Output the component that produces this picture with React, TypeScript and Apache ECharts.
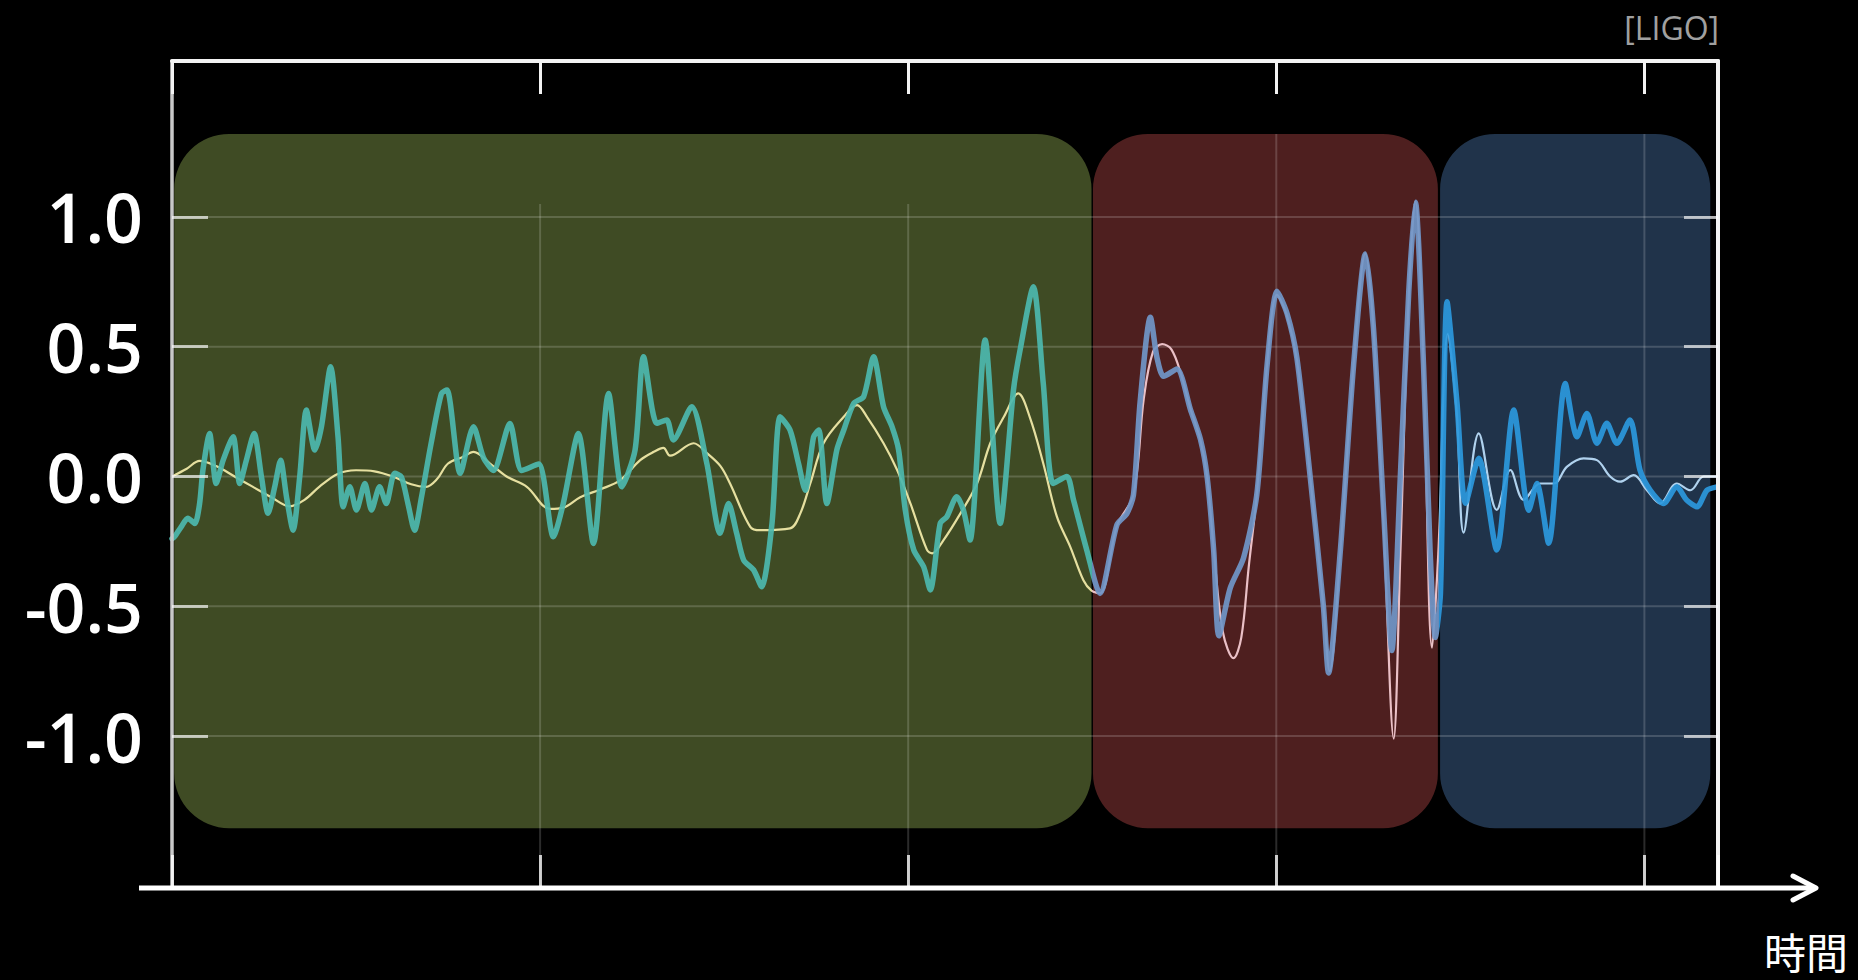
import React, { useEffect, useRef } from "react";
import * as echarts from "echarts";

// ---- axis ticks ----
const yTickValues = [-1.0, -0.5, 0.0, 0.5, 1.0];
const yTickLabels = ["-1.0", "-0.5", "0.0", "0.5", "1.0"];
const xMin = 0;
const xMax = 4.2;
const yMin = -1.578;
const yMax = 1.601;

// ---- shaded phases (x0, x1, bottom, top) ----
const phaseX0 = [0.006, 2.502, 3.445];
const phaseX1 = [2.498, 3.439, 4.179];
const phaseBottom = -1.355;
const phaseTop = 1.32;
const phaseBoundaries = [2.5, 3.442];

// ---- vertical grid lines ----
const vGridX = [1, 2, 3, 4];
const vGridTop = [1.05, 1.05, 1.32, 1.32];

// ---- observed strain (thick line) ----
const observedInspiral: [number, number][] = [
  [0.0, -0.24], [0.007, -0.232], [0.025, -0.194], [0.043, -0.161], [0.062, -0.181], [0.075, -0.104],
  [0.084, 0.025], [0.102, 0.166], [0.12, -0.027], [0.139, 0.063], [0.166, 0.153], [0.184, -0.027],
  [0.202, 0.063], [0.223, 0.166], [0.243, -0.001], [0.261, -0.142], [0.279, -0.04], [0.295, 0.063],
  [0.311, -0.078], [0.329, -0.207], [0.347, -0.001], [0.365, 0.256], [0.388, 0.102], [0.406, 0.192],
  [0.431, 0.423], [0.451, 0.153], [0.465, -0.117], [0.483, -0.04], [0.501, -0.129], [0.524, -0.027],
  [0.542, -0.129], [0.564, -0.04], [0.582, -0.104], [0.605, 0.012], [0.623, -0.001], [0.641, -0.104],
  [0.659, -0.207], [0.678, -0.078], [0.704, 0.128], [0.732, 0.32], [0.747, 0.333], [0.783, 0.012],
  [0.819, 0.192], [0.846, 0.073], [0.873, 0.023], [0.918, 0.204], [0.95, 0.023], [0.996, 0.048],
  [1.036, -0.232], [1.063, -0.104], [1.104, 0.166], [1.145, -0.258], [1.186, 0.32], [1.222, -0.04],
  [1.258, 0.102], [1.281, 0.461], [1.317, 0.205], [1.344, 0.218], [1.362, 0.141], [1.412, 0.269],
  [1.453, 0.05], [1.489, -0.219], [1.512, -0.104], [1.534, -0.219], [1.553, -0.322], [1.58, -0.36],
  [1.602, -0.425], [1.63, -0.181], [1.652, 0.23], [1.679, 0.179], [1.702, 0.05], [1.72, -0.053],
  [1.743, 0.153], [1.757, 0.179], [1.779, -0.104], [1.806, 0.102], [1.825, 0.179], [1.852, 0.282],
  [1.879, 0.308], [1.906, 0.461], [1.933, 0.269], [1.956, 0.192], [1.974, 0.102], [1.992, -0.129],
  [2.015, -0.283], [2.042, -0.348], [2.06, -0.437], [2.087, -0.181], [2.105, -0.155], [2.132, -0.078],
  [2.15, -0.129], [2.168, -0.245], [2.209, 0.526], [2.25, -0.181], [2.286, 0.333], [2.304, 0.487],
  [2.34, 0.731], [2.367, 0.358], [2.394, -0.027], [2.431, 0.0], [2.449, -0.09], [2.485, -0.283],
];
const observedMerger: [number, number][] = [
  [2.521, -0.451], [2.567, -0.186], [2.594, -0.143], [2.612, -0.071], [2.63, 0.286], [2.658, 0.614],
  [2.676, 0.457], [2.694, 0.386], [2.73, 0.414], [2.767, 0.257], [2.794, 0.143], [2.812, 0.0],
  [2.83, -0.286], [2.844, -0.614], [2.875, -0.429], [2.911, -0.314], [2.947, -0.071], [2.975, 0.429],
  [3.002, 0.714], [3.029, 0.629], [3.056, 0.457], [3.092, 0.0], [3.128, -0.5], [3.142, -0.757],
  [3.174, -0.286], [3.21, 0.429], [3.242, 0.857], [3.264, 0.571], [3.292, -0.143], [3.314, -0.671],
  [3.337, 0.0], [3.36, 0.714], [3.378, 1.057], [3.4, 0.429], [3.418, -0.29], [3.432, -0.62],
];
const observedRingdown: [number, number][] = [
  [3.446, -0.45], [3.464, 0.673], [3.491, 0.283], [3.514, -0.103], [3.55, 0.07], [3.599, -0.283],
  [3.645, 0.256], [3.686, -0.13], [3.708, -0.027], [3.74, -0.257], [3.785, 0.358], [3.817, 0.153],
  [3.844, 0.243], [3.871, 0.128], [3.898, 0.205], [3.925, 0.128], [3.961, 0.218], [3.988, 0.025],
  [4.016, -0.053], [4.052, -0.104], [4.088, -0.04], [4.115, -0.091], [4.143, -0.117], [4.17, -0.053],
  [4.197, -0.04],
];

// ---- numerical-relativity model (thin line) ----
const modelInspiral: [number, number][] = [
  [0.0, 0.0], [0.04, 0.03], [0.075, 0.06], [0.12, 0.04], [0.17, 0.0], [0.22, -0.04], [0.27, -0.08],
  [0.32, -0.115], [0.36, -0.09], [0.4, -0.04], [0.45, 0.01], [0.5, 0.024], [0.55, 0.02], [0.6, 0.0],
  [0.65, -0.03], [0.69, -0.04], [0.72, -0.01], [0.75, 0.05], [0.79, 0.075], [0.819, 0.095],
  [0.864, 0.05], [0.909, 0.0], [0.964, -0.04], [1.027, -0.125], [1.063, -0.12], [1.109, -0.08],
  [1.163, -0.05], [1.217, -0.015], [1.272, 0.063], [1.309, 0.095], [1.335, 0.11], [1.353, 0.08],
  [1.417, 0.128], [1.453, 0.09], [1.49, 0.04], [1.516, -0.027], [1.571, -0.194], [1.598, -0.207],
  [1.679, -0.2], [1.707, -0.142], [1.734, -0.027], [1.77, 0.128], [1.825, 0.23], [1.861, 0.275],
  [1.888, 0.23], [1.933, 0.128], [1.97, 0.025], [2.006, -0.104], [2.051, -0.283], [2.065, -0.296],
  [2.096, -0.245], [2.142, -0.142], [2.187, -0.027], [2.223, 0.128], [2.26, 0.23], [2.299, 0.32],
  [2.331, 0.226], [2.367, 0.05], [2.404, -0.155], [2.44, -0.27], [2.476, -0.4], [2.498, -0.44],
];
const modelMerger: [number, number][] = [
  [2.521, -0.45], [2.567, -0.19], [2.612, -0.07], [2.64, 0.3], [2.665, 0.48], [2.69, 0.51],
  [2.715, 0.49], [2.74, 0.4], [2.767, 0.26], [2.794, 0.14], [2.812, 0.0], [2.83, -0.28],
  [2.855, -0.6], [2.884, -0.7], [2.905, -0.62], [2.925, -0.35], [2.947, -0.07], [2.975, 0.43],
  [3.002, 0.7], [3.029, 0.62], [3.056, 0.45], [3.092, 0.0], [3.128, -0.5], [3.145, -0.75],
  [3.174, -0.29], [3.21, 0.43], [3.242, 0.86], [3.264, 0.57], [3.292, -0.2], [3.319, -1.01],
  [3.337, -0.3], [3.36, 0.7], [3.378, 1.06], [3.4, 0.43], [3.423, -0.66],
];
const modelRingdown: [number, number][] = [
  [3.44, -0.3], [3.466, 0.55], [3.49, 0.25], [3.509, -0.216], [3.55, 0.166], [3.599, -0.129],
  [3.636, 0.025], [3.672, -0.09], [3.717, -0.027], [3.754, -0.027], [3.79, 0.038], [3.835, 0.07],
  [3.871, 0.063], [3.907, 0.0], [3.934, -0.02], [3.971, 0.005], [4.007, -0.053], [4.043, -0.104],
  [4.088, -0.027], [4.125, -0.053], [4.161, 0.0], [4.197, 0.0],
];

const observed = [...observedInspiral, ...observedMerger, ...observedRingdown];
const model = [...modelInspiral, ...modelMerger, ...modelRingdown];

const phaseFill = ["#3f4b24", "#4e1f1f", "#20334a"];
const observedColors = ["#4cb8ae", "#7096c8", "#2b98dd"];
const modelColors = ["#e6e0a0", "#eac0c6", "#b0d2ee"];

export default function App() {
  const ref = useRef<HTMLDivElement>(null);

  useEffect(() => {
    document.body.style.margin = "0";
    document.body.style.background = "#000";
    const chart = echarts.init(ref.current!, null, { renderer: "svg" });

    const phaseData = phaseX0.map((x0, i) => [x0, phaseX1[i], phaseBottom, phaseTop]);
    const gridData: number[][] = [
      ...yTickValues.map((y) => [xMin, y, xMax, y]),
      ...vGridX.map((x, i) => [x, vGridTop[i], x, yMin]),
    ];

    const pieces = (colors: string[]) => [
      { lt: phaseBoundaries[0], color: colors[0] },
      { gte: phaseBoundaries[0], lt: phaseBoundaries[1], color: colors[1] },
      { gte: phaseBoundaries[1], color: colors[2] },
    ];

    const font = "'Open Sans', 'Noto Sans', sans-serif";

    chart.setOption({
      animation: false,
      backgroundColor: "#000",
      grid: { left: 172, right: 140, top: 61, bottom: 94 },
      xAxis: [
        {
          type: "value",
          position: "bottom",
          min: xMin,
          max: xMax,
          interval: 1,
          z: 6,
          axisLine: { show: false, onZero: false },
          axisTick: { show: true, inside: true, length: 31, lineStyle: { color: "rgba(255,255,255,0.78)", width: 3 } },
          axisLabel: { show: false },
          splitLine: { show: false },
        },
        {
          type: "value",
          position: "top",
          min: xMin,
          max: xMax,
          interval: 1,
          z: 6,
          axisLine: { show: true, onZero: false, lineStyle: { color: "#f2f2f2", width: 4 } },
          axisTick: { show: true, inside: true, length: 33, lineStyle: { color: "#f2f2f2", width: 3 } },
          axisLabel: { show: false },
          splitLine: { show: false },
        },
      ],
      yAxis: [
        {
          type: "value",
          position: "left",
          min: yMin,
          max: yMax,
          z: 6,
          axisLine: { show: true, onZero: false, lineStyle: { color: "#c8c8c8", width: 3.5 } },
          axisTick: {
            show: true,
            inside: true,
            length: 36,
            customValues: yTickValues,
            lineStyle: { color: "rgba(255,255,255,0.66)", width: 3 },
          },
          axisLabel: {
            show: true,
            customValues: yTickValues,
            margin: 29,
            color: "#ffffff",
            fontSize: 68,
            fontWeight: 600,
            fontFamily: font,
            formatter: (v: number) => {
              const i = yTickValues.findIndex((t) => Math.abs(t - v) < 1e-6);
              return i >= 0 ? yTickLabels[i] : "";
            },
          },
          splitLine: { show: false },
        },
        {
          type: "value",
          position: "right",
          min: yMin,
          max: yMax,
          z: 6,
          axisLine: { show: true, onZero: false, lineStyle: { color: "#f2f2f2", width: 4 } },
          axisTick: {
            show: true,
            inside: true,
            length: 34,
            customValues: yTickValues,
            lineStyle: { color: "rgba(255,255,255,0.66)", width: 3 },
          },
          axisLabel: { show: false },
          splitLine: { show: false },
        },
      ],
      visualMap: [
        { type: "piecewise", show: false, dimension: 0, seriesIndex: 2, pieces: pieces(modelColors) },
        { type: "piecewise", show: false, dimension: 0, seriesIndex: 3, pieces: pieces(observedColors) },
      ],
      series: [
        {
          type: "custom",
          z: 1,
          silent: true,
          clip: false,
          data: phaseData,
          encode: { x: [0, 1], y: [2, 3] },
          renderItem: (params: any, api: any) => {
            const p0 = api.coord([api.value(0), api.value(3)]);
            const p1 = api.coord([api.value(1), api.value(2)]);
            return {
              type: "rect",
              shape: { x: p0[0], y: p0[1], width: p1[0] - p0[0], height: p1[1] - p0[1], r: 55 },
              style: { fill: phaseFill[params.dataIndex] },
            };
          },
        },
        {
          type: "custom",
          z: 2,
          silent: true,
          clip: false,
          data: gridData,
          encode: { x: [0, 2], y: [1, 3] },
          renderItem: (params: any, api: any) => {
            const a = api.coord([api.value(0), api.value(1)]);
            const b = api.coord([api.value(2), api.value(3)]);
            return {
              type: "line",
              shape: { x1: a[0], y1: a[1], x2: b[0], y2: b[1] },
              style: { stroke: "rgba(255,255,255,0.17)", lineWidth: 2 },
            };
          },
        },
        {
          type: "line",
          z: 3,
          data: model,
          showSymbol: false,
          smooth: 0.35,
          silent: true,
          lineStyle: { width: 2.2, cap: "round", join: "round" },
        },
        {
          type: "line",
          z: 4,
          data: observed,
          showSymbol: false,
          smooth: 0.25,
          silent: true,
          lineStyle: { width: 5.5, opacity: 0.92, cap: "round", join: "round" },
        },
      ],
      graphic: [
        {
          type: "line",
          z: 10,
          shape: { x1: 139, y1: 888, x2: 1815, y2: 888 },
          style: { stroke: "#ffffff", lineWidth: 5 },
        },
        {
          type: "polyline",
          z: 10,
          shape: { points: [[1793, 876], [1816, 888], [1793, 900]] },
          style: { stroke: "#ffffff", lineWidth: 5, fill: "none", lineCap: "round", lineJoin: "round" },
        },
        {
          type: "text",
          z: 10,
          x: 1719,
          y: 27,
          style: {
            text: "[LIGO]",
            fill: "#a0a0a0",
            fontSize: 32,
            fontFamily: font,
            align: "right",
            verticalAlign: "middle",
          },
        },
        {
          type: "text",
          z: 10,
          x: 1848,
          y: 950,
          style: {
            text: "時間",
            fill: "#ffffff",
            fontSize: 42,
            fontFamily: "'Noto Sans CJK JP', 'Noto Sans CJK SC', sans-serif",
            align: "right",
            verticalAlign: "middle",
          },
        },
      ],
    });

    return () => chart.dispose();
  }, []);

  return <div ref={ref} style={{ width: 1858, height: 980, background: "#000" }} />;
}
